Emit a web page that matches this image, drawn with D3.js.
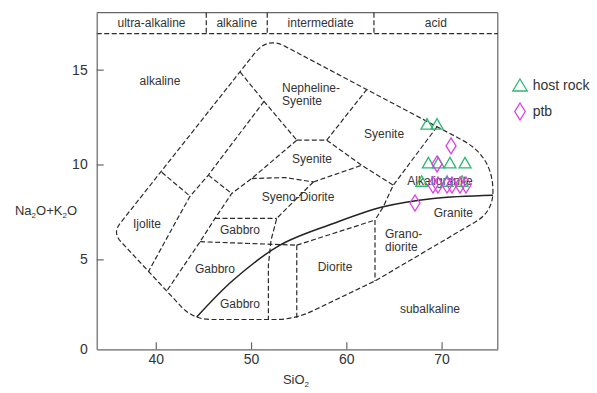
<!DOCTYPE html>
<html>
<head>
<meta charset="utf-8">
<script src="https://cdn.jsdelivr.net/npm/d3@7"></script>
<style>
  body { margin: 0; background: #fff; }
  svg { display: block; font-family: "Liberation Sans", Arial, sans-serif; }
  .field { fill: none; stroke: #2b2b2b; stroke-width: 1.2; stroke-dasharray: 5,2.5; }
  .divide { fill: none; stroke: #222; stroke-width: 1.5; }
  .frame { stroke: #666; stroke-width: 1.2; fill: none; }
  .axis path, .axis line { stroke: #666; stroke-width: 1.2; }
  .axis text { fill: #333; font-size: 14px; font-family: "Liberation Sans", Arial, sans-serif; }
  .label { fill: #333; font-size: 12px; }
</style>
</head>
<body>
<div id="chart"></div>
<script>
// ---- data: SiO2 (wt%) vs Na2O+K2O (wt%) ----
var xTicks = [40, 50, 60, 70];
var yTicks = [5, 10, 15];
var seriesNames = ["host rock", "ptb"];

var hostSiO2 = [68.47, 69.52, 68.61, 69.66, 70.88, 72.46, 67.91, 70.57, 72.15];
var hostAlk  = [12.14, 12.14, 10.10, 10.10, 10.10, 10.10, 9.13, 9.13, 9.13];

var ptbSiO2 = [70.99, 69.52, 69.10, 69.62, 70.57, 71.09, 71.93, 72.56, 67.21];
var ptbAlk  = [10.98, 10.03, 8.92, 8.92, 8.92, 8.92, 8.92, 8.92, 7.97];

// silica classes in the top strip
var bandNames = ["ultra-alkaline", "alkaline", "intermediate", "acid"];
var bandLimits = [33.8, 45.3, 51.7, 62.9, 75.9];
var bandBottom = 16.9;

// outline of all fields (corners, rounded when drawn)
var outerField = [[35.47, 6.40], [51.73, 16.72], [75.39, 10.43], [75.39, 7.52],
                  [63.01, 3.86], [54.58, 1.83], [43.93, 1.83]];

// dashed field boundaries
var fieldLines = [
  [[40.63, 9.59], [43.60, 8.33]],
  [[51.36, 13.33], [45.52, 9.44], [43.60, 8.33], [42.20, 7.07], [39.24, 4.36]],
  [[48.85, 14.88], [51.36, 13.33], [54.80, 11.28]],
  [[54.80, 11.28], [57.94, 11.28]],
  [[57.94, 11.28], [62.14, 13.95]],
  [[45.52, 9.44], [47.97, 8.47]],
  [[54.80, 11.28], [50.07, 9.26], [47.97, 8.47], [46.22, 7.16], [44.65, 5.93], [41.15, 3.33]],
  [[50.07, 9.26], [53.57, 9.31], [56.54, 9.08]],
  [[56.54, 9.08], [61.62, 9.96]],
  [[57.94, 11.28], [61.62, 9.96], [64.93, 8.91]],
  [[69.52, 11.99], [64.93, 8.91], [63.88, 7.77], [63.01, 7.07], [63.01, 3.86]],
  [[56.54, 9.08], [54.09, 7.86], [52.70, 7.16], [52.10, 6.02], [51.82, 4.70], [51.82, 1.83]],
  [[46.22, 7.16], [52.70, 7.16]],
  [[44.65, 5.93], [54.80, 5.75]],
  [[54.80, 5.75], [63.01, 7.07]],
  [[54.80, 5.75], [54.80, 1.83]]
];

// alkaline / subalkaline divide (solid)
var alkalineDivide = [[44.30, 1.96], [48.14, 3.91], [53.04, 5.75], [58.64, 6.89],
                      [63.88, 7.77], [69.13, 8.21], [75.39, 8.38]];

var fieldNames = [
  {text: ["alkaline"], x: 40.44, y: 14.40},
  {text: ["Nepheline-", "Syenite"], x: 53.25, y: 14.02, start: true},
  {text: ["Syenite"], x: 63.96, y: 11.61},
  {text: ["Syenite"], x: 56.40, y: 10.29},
  {text: ["Syeno-Diorite"], x: 54.93, y: 8.29},
  {text: ["Gabbro"], x: 48.84, y: 6.55},
  {text: ["Gabbro"], x: 46.22, y: 4.48},
  {text: ["Gabbro"], x: 48.84, y: 2.68},
  {text: ["Ijolite"], x: 39.08, y: 6.85},
  {text: ["Diorite"], x: 58.81, y: 4.61},
  {text: ["Grano-", "diorite"], x: 64.06, y: 6.37, start: true},
  {text: ["Granite"], x: 71.23, y: 7.47},
  {text: ["Alkaligranite"], x: 69.83, y: 9.13},
  {text: ["subalkaline"], x: 68.78, y: 2.42}
];

var W = 597, H = 393;

var svg = d3.select("#chart").append("svg")
    .attr("width", W)
    .attr("height", H);

var x = d3.scaleLinear().domain([bandLimits[0], bandLimits[4]]).range([96.7, 497.8]);
var y = d3.scaleLinear().domain([0.26, 18]).range([349.3, 12.7]);

// rounded polygon: straight edges, quadratic corners of radius r (px)
function roundedPath(pts, radii) {
    var p = d3.path(), n = pts.length;
    for (var i = 0; i < n; i++) {
        var prev = pts[(i - 1 + n) % n], cur = pts[i], next = pts[(i + 1) % n];
        var r = radii[i];
        var d1 = Math.hypot(prev[0] - cur[0], prev[1] - cur[1]);
        var d2 = Math.hypot(next[0] - cur[0], next[1] - cur[1]);
        var a = [cur[0] + (prev[0] - cur[0]) * r / d1, cur[1] + (prev[1] - cur[1]) * r / d1];
        var b = [cur[0] + (next[0] - cur[0]) * r / d2, cur[1] + (next[1] - cur[1]) * r / d2];
        if (i === 0) p.moveTo(a[0], a[1]); else p.lineTo(a[0], a[1]);
        p.quadraticCurveTo(cur[0], cur[1], b[0], b[1]);
    }
    p.closePath();
    return p.toString();
}

function trianglePath(w, h) {
    return "M0," + (-h / 2) + "L" + (w / 2) + "," + (h / 2) + "L" + (-w / 2) + "," + (h / 2) + "Z";
}
function diamondPath(w, h) {
    return "M0," + (-h / 2) + "L" + (w / 2) + ",0L0," + (h / 2) + "L" + (-w / 2) + ",0Z";
}

// top strip with silica classes
svg.append("line").attr("class", "frame")
    .attr("x1", x.range()[0]).attr("x2", x.range()[1])
    .attr("y1", y(18)).attr("y2", y(18));
svg.append("line").attr("class", "frame")
    .attr("x1", x.range()[1]).attr("x2", x.range()[1])
    .attr("y1", y(18)).attr("y2", y.range()[0]);
svg.append("line").attr("class", "field")
    .attr("x1", x.range()[0]).attr("x2", x.range()[1])
    .attr("y1", y(bandBottom)).attr("y2", y(bandBottom));

svg.selectAll(".band-div")
    .data(bandLimits.slice(1, 4))
    .enter().append("line")
    .attr("class", "field band-div")
    .attr("x1", d => x(d)).attr("x2", d => x(d))
    .attr("y1", y(18)).attr("y2", y(bandBottom));

svg.selectAll(".band-label")
    .data(bandNames)
    .enter().append("text")
    .attr("class", "label band-label")
    .attr("x", (d, i) => (x(bandLimits[i]) + x(bandLimits[i + 1])) / 2)
    .attr("y", (y(18) + y(bandBottom)) / 2)
    .attr("dy", "0.35em")
    .attr("text-anchor", "middle")
    .text(d => d);

// fields
var outerPx = outerField.map(d => [x(d[0]), y(d[1])]);
svg.append("path")
    .attr("class", "field")
    .attr("d", roundedPath(outerPx, [12, 20, 35, 20, 0, 20, 18]));

var line = d3.line().x(d => x(d[0])).y(d => y(d[1]));

svg.selectAll(".field-line")
    .data(fieldLines)
    .enter().append("path")
    .attr("class", "field field-line")
    .attr("d", line);

svg.append("path")
    .attr("class", "divide")
    .attr("d", line.curve(d3.curveCatmullRom)(alkalineDivide));

// field names
var names = svg.selectAll(".field-name")
    .data(fieldNames)
    .enter().append("text")
    .attr("class", "label field-name")
    .attr("text-anchor", d => d.start ? "start" : "middle")
    .attr("transform", d => "translate(" + x(d.x) + "," + y(d.y) + ")");

names.selectAll("tspan")
    .data(d => d.text)
    .enter().append("tspan")
    .attr("x", 0)
    .attr("y", (d, i) => i * 13)
    .attr("dy", "0.35em")
    .text(d => d);

// axes
var xAxis = d3.axisBottom(x).tickValues(xTicks).tickSize(-7).tickSizeOuter(0).tickPadding(5);
var yAxis = d3.axisLeft(y).tickValues(yTicks).tickSize(-7).tickSizeOuter(0).tickPadding(9);

svg.append("g")
    .attr("class", "x-axis axis")
    .attr("transform", "translate(0," + y.range()[0] + ")")
    .call(xAxis);

svg.append("g")
    .attr("class", "y-axis axis")
    .attr("transform", "translate(" + x.range()[0] + ",0)")
    .call(yAxis);

svg.selectAll(".axis text").style("font-size", "14px");

svg.append("text")
    .attr("x", x.range()[0] - 9)
    .attr("y", y.range()[0])
    .attr("dy", "0.32em")
    .attr("text-anchor", "end")
    .style("fill", "#333").style("font-size", "14px")
    .text("0");

// axis titles
var yTitle = svg.append("text")
    .attr("x", 46)
    .attr("y", 215)
    .attr("text-anchor", "middle")
    .style("fill", "#333").style("font-size", "13px");
yTitle.append("tspan").text("Na");
yTitle.append("tspan").attr("dy", 3).style("font-size", "8px").text("2");
yTitle.append("tspan").attr("dy", -3).text("O+K");
yTitle.append("tspan").attr("dy", 3).style("font-size", "8px").text("2");
yTitle.append("tspan").attr("dy", -3).text("O");

var xTitle = svg.append("text")
    .attr("x", 296)
    .attr("y", 384)
    .attr("text-anchor", "middle")
    .style("fill", "#333").style("font-size", "13px");
xTitle.append("tspan").text("SiO");
xTitle.append("tspan").attr("dy", 3).style("font-size", "8px").text("2");

// samples
var colors = {"host rock": "#2eb872", "ptb": "#de3fe2"};

var hostData = hostSiO2.map((v, i) => ({x: v, y: hostAlk[i]}));
var ptbData = ptbSiO2.map((v, i) => ({x: v, y: ptbAlk[i]}));

svg.selectAll(".host")
    .data(hostData)
    .enter().append("path")
    .attr("class", "host")
    .attr("d", trianglePath(12, 10.5))
    .attr("transform", d => "translate(" + x(d.x) + "," + y(d.y) + ")")
    .attr("fill", "none")
    .attr("stroke", colors["host rock"])
    .attr("stroke-width", 1.3);

svg.selectAll(".ptb")
    .data(ptbData)
    .enter().append("path")
    .attr("class", "ptb")
    .attr("d", diamondPath(10, 16))
    .attr("transform", d => "translate(" + x(d.x) + "," + y(d.y) + ")")
    .attr("fill", "none")
    .attr("stroke", colors["ptb"])
    .attr("stroke-width", 1.3);

// legend
var legend = svg.append("g").attr("transform", "translate(520,85)");
seriesNames.forEach((name, i) => {
    var row = legend.append("g").attr("transform", "translate(0," + (i * 26.5) + ")");
    row.append("path")
        .attr("d", i === 0 ? trianglePath(14.5, 12) : diamondPath(10.5, 17))
        .attr("fill", "none")
        .attr("stroke", colors[name])
        .attr("stroke-width", 1.3);
    row.append("text")
        .attr("x", 12.7)
        .attr("dy", "0.35em")
        .style("fill", "#333").style("font-size", "14px")
        .text(name);
});
</script>
</body>
</html>
